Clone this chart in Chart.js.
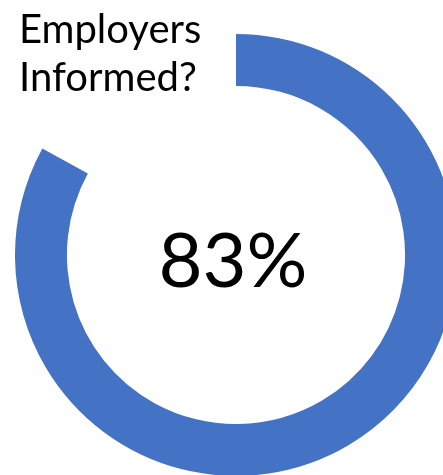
<!DOCTYPE html>
<html>
<head>
<meta charset="utf-8">
<script src="https://cdn.jsdelivr.net/npm/chart.js@4/dist/chart.umd.min.js"></script>
<style>
  html, body { margin: 0; padding: 0; width: 443px; height: 475px; overflow: hidden; background: #fff; }
  #wrap { position: absolute; left: 15px; top: 34px; width: 442px; height: 442px; }
  #title { position: absolute; left: 19px; top: 4px; font-family: Lato, sans-serif; font-size: 40px; line-height: 48px; color: #000; z-index: 2; }
</style>
</head>
<body>
<div id="title">Employers<br>Informed?</div>
<div id="wrap"><canvas id="donut"></canvas></div>
<script>
// data
const labels = ['Informed', 'Not informed'];
const values = [83, 17];
const colors = ['#4472c4', 'rgba(0,0,0,0)'];

// center label
const centerText = {
  id: 'centerText',
  afterDraw(chart) {
    const ctx = chart.ctx;
    const arc = chart.getDatasetMeta(0).data[0];
    ctx.save();
    ctx.font = '76px Lato, sans-serif';
    ctx.fillStyle = '#000';
    ctx.textAlign = 'center';
    ctx.textBaseline = 'middle';
    ctx.fillText(values[0] + '%', arc.x - 3, arc.y + 7);
    ctx.restore();
  }
};

const ctx = document.getElementById('donut').getContext('2d');
new Chart(ctx, {
  type: 'doughnut',
  data: {
    labels: labels,
    datasets: [{
      data: values,
      backgroundColor: colors,
      borderWidth: 0
    }]
  },
  options: {
    responsive: true,
    maintainAspectRatio: false,
    animation: false,
    cutout: '76.5%',
    layout: { padding: 0 },
    plugins: {
      legend: { display: false },
      tooltip: { enabled: false }
    }
  },
  plugins: [centerText]
});
</script>
</body>
</html>
